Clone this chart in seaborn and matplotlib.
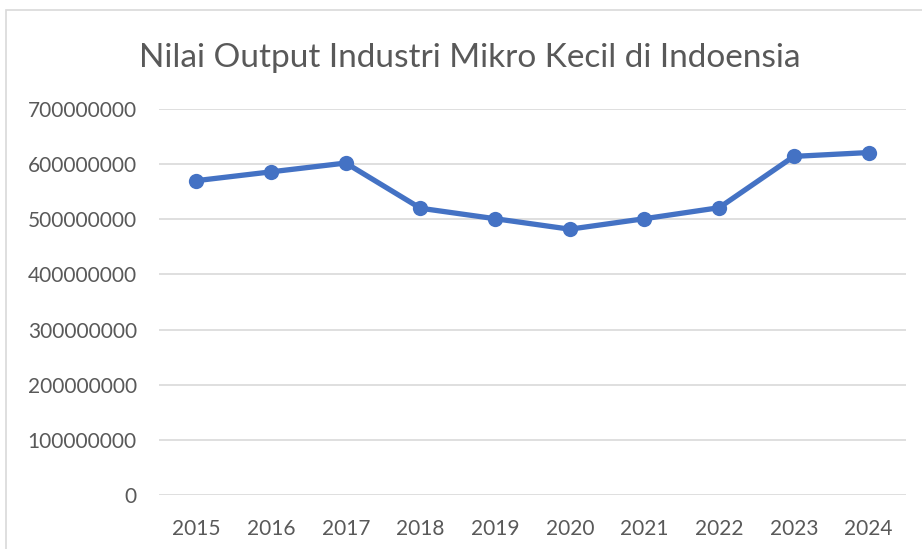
import matplotlib
matplotlib.use("Agg")
import matplotlib.pyplot as plt
import seaborn as sns
import pandas as pd
from matplotlib.ticker import FuncFormatter
from matplotlib.patches import Rectangle

# ---- Data ----
years = ["2015", "2016", "2017", "2018", "2019", "2020", "2021", "2022", "2023", "2024"]
output_values = [570000000, 586000000, 602000000, 520000000, 501000000,
                 482000000, 501000000, 521000000, 614000000, 621000000]
y_ticks = [0, 100000000, 200000000, 300000000, 400000000, 500000000, 600000000, 700000000]
title = "Nilai Output Industri Mikro Kecil di Indoensia"

df = pd.DataFrame({"Tahun": years, "Output": output_values})

# ---- Style ----
sns.set_style("white")
plt.rcParams["font.family"] = ["Lato", "DejaVu Sans"]
text_color = "#595959"
line_color = "#4472C4"

fig = plt.figure(figsize=(9.22, 5.49), dpi=100)
ax = fig.add_axes([0.1725, 0.0984, 0.81, 0.7031])

sns.lineplot(data=df, x="Tahun", y="Output", ax=ax, color=line_color,
             linewidth=3.8, marker="o", markersize=11, markeredgewidth=0,
             sort=False)

ax.set_ylim(0, 700000000)
ax.set_xlim(-0.5, len(years) - 0.5)
ax.set_yticks(y_ticks)
ax.yaxis.set_major_formatter(FuncFormatter(lambda v, p: f"{v:.0f}"))
ax.grid(axis="y", color="#D9D9D9", linewidth=1.2)
ax.set_axisbelow(True)
for s in ax.spines.values():
    s.set_visible(False)
ax.tick_params(axis="both", length=0, labelsize=15, labelcolor=text_color)
ax.tick_params(axis="y", pad=16)
ax.tick_params(axis="x", pad=17)
ax.set_xlabel("")
ax.set_ylabel("")

fig.text(0.51, 0.895, title, ha="center", va="center", fontsize=24,
         color=text_color)

# chart border
fig.patches.append(Rectangle((0.006, -0.01), 1.0, 0.992, transform=fig.transFigure,
                             fill=False, edgecolor="#D9D9D9", linewidth=1.2))

fig.savefig("out.png", dpi=100)
